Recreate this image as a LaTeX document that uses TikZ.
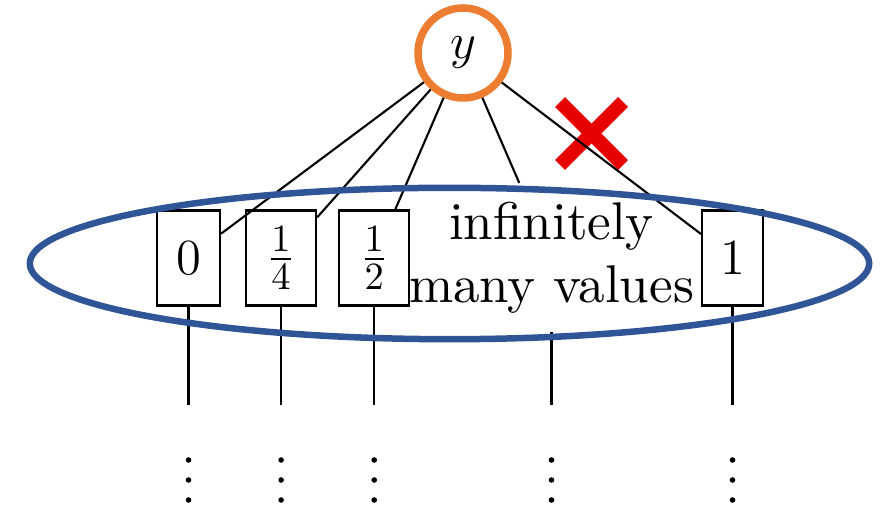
\documentclass[tikz,border=0pt]{standalone}
\usepackage{amsmath}
\usepackage{fontspec}
\setmainfont{lmroman10-regular.otf}
\usepackage{xcolor}
\usetikzlibrary{positioning}

\definecolor{rootorange}{RGB}{237,125,49}
\definecolor{setblue}{RGB}{47,85,151}
\definecolor{crossred}{RGB}{230,0,0}

\begin{document}
\begin{tikzpicture}[
    valbox/.style={
        draw,
        line width=0.6pt,
        font=\fontsize{15.1}{18}\selectfont,
        minimum width=0.63cm,
        minimum height=0.95cm,
        inner sep=0pt
    },
    rootnode/.style={
        circle,
        draw=rootorange,
        line width=0.075cm,
        minimum size=0.9cm,
        inner sep=0pt,
        font=\fontsize{15.1}{18}\selectfont
    },
    link/.style={line width=0.6pt}
]
\useasboundingbox (0,0) rectangle (8.87,-5.06);

% --- Cruz (rama descartada) ---
\draw[crossred, line width=0.14cm] (5.60,-1.02) -- (6.23,-1.65);
\draw[crossred, line width=0.14cm] (5.60,-1.65) -- (6.23,-1.02);

% --- Raiz ---
\node[rootnode] (root) at (4.63,-0.53) {$y$};

% --- Valores ---
\node[valbox] (v0) at (1.885,-2.58) {$0$};
\node[valbox, minimum width=0.70cm, right=0.24cm of v0] (vq) {$\frac{1}{4}$};
\node[valbox, minimum width=0.70cm, right=0.21cm of vq] (vh) {$\frac{1}{2}$};
\node[valbox, draw=none, align=center, minimum height=1.47cm] (vinf) at (5.515,-2.575) {infinitely\\many values};
\node[valbox, minimum width=0.61cm] (v1) at (7.325,-2.58) {$1$};

% --- Ramas ---
\foreach \v in {v0,vq,vh,vinf,v1}
    \draw[link] (root) -- (\v);

\coordinate (floor) at (0,-4.05);
\foreach \v in {v0,vq,vh,vinf,v1} {
    \draw[link] (\v) -- (\v |- floor);
    \foreach \k in {0,1,2}
        \fill (\v |- floor) ++(0,-0.55-0.2*\k) circle (0.028);
}

% --- Conjunto ---
\draw[setblue, line width=0.065cm] (4.495,-2.635) ellipse [x radius=4.197, y radius=0.757];

\end{tikzpicture}
\end{document}
